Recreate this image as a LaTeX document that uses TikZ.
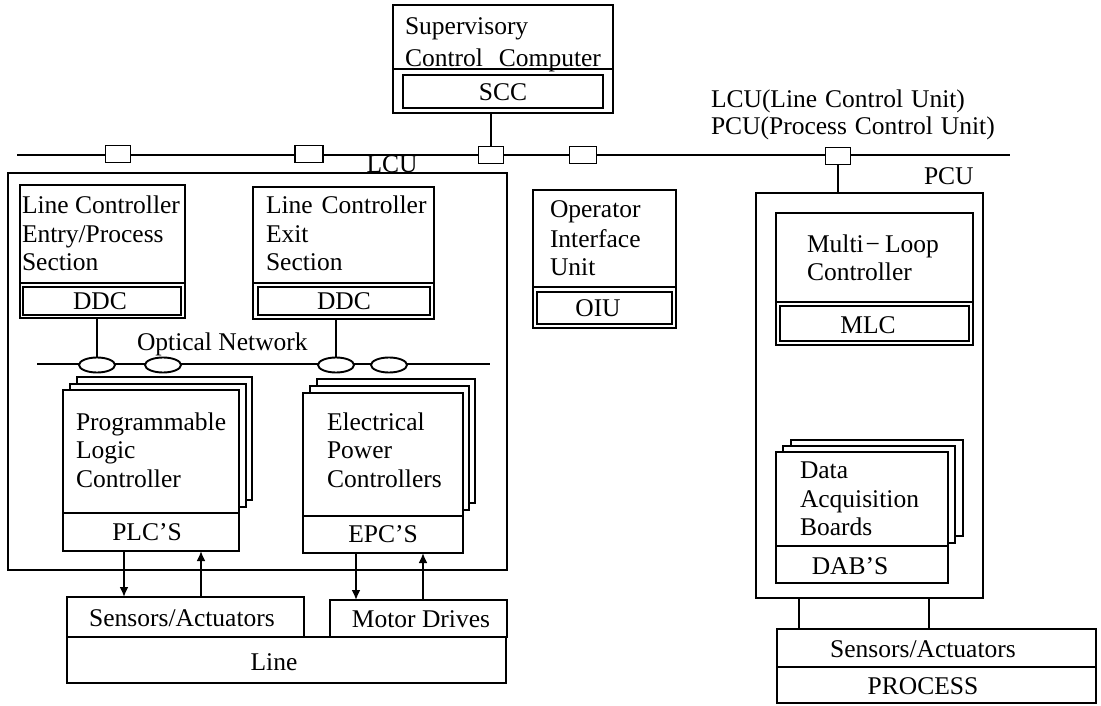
\documentclass[tikz,border=0pt]{standalone}
\usepackage{fontspec}
\setmainfont{Liberation Serif}
\usetikzlibrary{arrows.meta,shapes.geometric}

% rectangle node given by its top-left and bottom-right corners (y grows downward)
\newcommand{\bx}[6][]{%
  \node[box,#1,minimum width={#5-#3},minimum height={#6-#4}] (#2) at (#3,#4) {};}

\begin{document}
\begin{tikzpicture}[x=1pt,y=-1pt,
  box/.style={draw,line width=1.9pt,fill=white,inner sep=0pt,outer sep=0pt,anchor=north west},
  txt/.style={font=\fontsize{25.5}{28.5}\selectfont,inner sep=0pt,outer sep=0pt},
  lt/.style={txt,anchor=base west},
  ct/.style={txt,anchor=center},
  wire/.style={line width=1.9pt},
  flow/.style={wire,-{Latex[length=10pt,width=9pt]}},
  tap/.style={draw,line width=1.9pt,fill=white,minimum width=25pt,minimum height=17pt,inner sep=0pt,outer sep=0pt},
  port/.style={draw,ellipse,line width=1.9pt,fill=white,minimum width=36pt,minimum height=15pt,inner sep=0pt,outer sep=0pt}]

\useasboundingbox (0,0) rectangle (1101,706);
\fill[white] (0,0) rectangle (1101,706);

% ---------- supervisory computer ----------
\bx{sccTop}{393}{5}{613}{69}
\bx{sccBot}{393}{69}{613}{113}
\bx{sccIn}{403}{75}{603}{108}
\node[lt] (scct1) at (405,35) {Supervisory};
\node[lt] (scct2) at (405,67) {Control\hskip16pt Computer};
\node[ct] (scclab) at (503,92) {SCC};

% ---------- plant bus ----------
\coordinate (busL) at (17,155);
\coordinate (busR) at (1010,155);
\draw[wire] (busL) -- (busR);
\node[tap] (sq1) at (118,154) {};
\node[tap,minimum width=28pt] (sq2) at (309,154) {};
\node[tap] (sq3) at (491,155) {};
\node[tap,minimum width=27pt] (sq4) at (583,155) {};
\node[tap] (sq5) at (838,156) {};
\draw[wire] (sq3.north) -- (sq3.north |- sccBot.south);

% legend
\node[lt] (leg1) at (711,108) {LCU(Line\hskip8pt Control\hskip8pt Unit)};
\node[lt] (leg2) at (711,135) {PCU(Process\hskip8pt Control\hskip8pt Unit)};

% ---------- line control unit ----------
\bx{lcu}{8}{173}{507}{570}
\node[txt,anchor=base] (lculab) at (392,173) {LCU};

\bx{lc1Top}{20}{185}{185}{283}
\bx{lc1Bot}{20}{283}{185}{318}
\bx{lc1In}{23}{287}{181}{315}
\node[lt] (lc1a) at (22,213) {Line Controller};
\node[lt] (lc1b) at (22,242) {Entry/Process};
\node[lt] (lc1c) at (22,270) {Section};
\node[ct] (ddc1) at (100,301) {DDC};

\bx{lc2Top}{253}{187}{434}{283}
\bx{lc2Bot}{253}{283}{434}{319}
\bx{lc2In}{258}{287}{430}{315}
\node[lt] (lc2a) at (266,213) {Line\hskip9pt Controller};
\node[lt] (lc2b) at (266,242) {Exit};
\node[lt] (lc2c) at (266,270) {Section};
\node[ct] (ddc2) at (344,301) {DDC};

% optical network
\node[lt] (optlab) at (137,350) {Optical Network};
\coordinate (optL) at (37,364);
\coordinate (optR) at (490,364);
\draw[wire] (optL) -- (optR);
\node[port] (e1) at (97,365) {};
\node[port] (e2) at (163,365) {};
\node[port] (e3) at (336,365) {};
\node[port] (e4) at (389,365) {};
\draw[wire] (e1.north) -- (e1.north |- lc1Bot.south);
\draw[wire] (e3.north) -- (e3.north |- lc2Bot.south);

% programmable logic controllers (stack)
\bx{plc2}{77}{377}{252}{500}
\bx{plc1}{70}{384}{246}{507}
\bx{plcTop}{63}{390}{239}{513}
\bx{plcBot}{63}{513}{239}{551}
\node[lt] (plca) at (76,430) {Programmable};
\node[lt] (plcb) at (76,458.5) {Logic};
\node[lt] (plcc) at (76,487) {Controller};
\node[ct] (plclab) at (147,532) {PLC’S};

% electrical power controllers (stack)
\bx{epc2}{317}{379}{475}{503}
\bx{epc1}{310}{386}{469}{510}
\bx{epcTop}{303}{393}{463}{516}
\bx{epcBot}{303}{516}{463}{553}
\node[lt] (epca) at (327,430) {Electrical};
\node[lt] (epcb) at (327,458.5) {Power};
\node[lt] (epcc) at (327,487) {Controllers};
\node[ct] (epclab) at (383,534) {EPC’S};

% ---------- operator interface unit ----------
\bx{oiuTop}{533}{190}{676}{287}
\bx{oiuBot}{533}{287}{676}{328}
\bx{oiuIn}{537}{292}{672}{324}
\node[lt] (oiua) at (550,218) {Operator};
\node[lt] (oiub) at (550,247) {Interface};
\node[lt] (oiuc) at (550,275) {Unit};
\node[ct] (oiulab) at (598,308) {OIU};

% ---------- process control unit ----------
\bx{pcu}{756}{193}{983}{598}
\node[lt] (pculab) at (924,185) {PCU};
\draw[wire] (sq5.south) -- (sq5.south |- pcu.north);

\bx{mlcTop}{776}{213}{973}{302}
\bx{mlcBot}{776}{302}{973}{345}
\bx{mlcIn}{780}{306}{969}{341}
\node[lt] (mlca) at (807,252) {Multi\kern2pt −\kern5pt Loop};
\node[lt] (mlcb) at (807,280) {Controller};
\node[ct] (mlclab) at (868,325) {MLC};

\bx{dab2}{791}{440}{963}{536}
\bx{dab1}{783}{446}{955}{543}
\bx{dabTop}{776}{452}{948}{546}
\bx{dabBot}{776}{546}{948}{583}
\node[lt] (daba) at (800,478) {Data};
\node[lt] (dabb) at (800,507) {Acquisition};
\node[lt] (dabc) at (800,535) {Boards};
\node[ct] (dablab) at (850,566) {DAB’S};

% ---------- field level ----------
\bx{sens}{67}{597}{304}{637}
\bx{motor}{330}{600}{507}{637}
\bx{line}{67}{637}{506}{683}
\node[ct] (senslab) at (182,618) {Sensors/Actuators};
\node[ct] (motorlab) at (421,619) {Motor Drives};
\node[ct] (linelab) at (274,662) {Line};

\bx{psens}{777}{629}{1096}{667}
\bx{proc}{777}{667}{1096}{703}
\node[ct] (psenslab) at (923,649) {Sensors/Actuators};
\node[ct] (proclab) at (923,686) {PROCESS};

% signal paths
\coordinate (plcOut) at ([xshift=61pt]plcBot.south west);
\coordinate (plcIn)  at ([xshift=138pt]plcBot.south west);
\coordinate (epcOut) at ([xshift=53pt]epcBot.south west);
\coordinate (epcIn)  at ([xshift=120pt]epcBot.south west);
\draw[flow] (plcOut) -- (plcOut |- sens.north);
\draw[flow] (plcIn |- sens.north) -- (plcIn);
\draw[flow] (epcOut) -- (epcOut |- motor.north);
\draw[flow] (epcIn |- motor.north) -- (epcIn);

\coordinate (pcuA) at ([xshift=43pt]pcu.south west);
\coordinate (pcuB) at ([xshift=173pt]pcu.south west);
\draw[wire] (pcuA) -- (pcuA |- psens.north);
\draw[wire] (pcuB) -- (pcuB |- psens.north);
\end{tikzpicture}
\end{document}
